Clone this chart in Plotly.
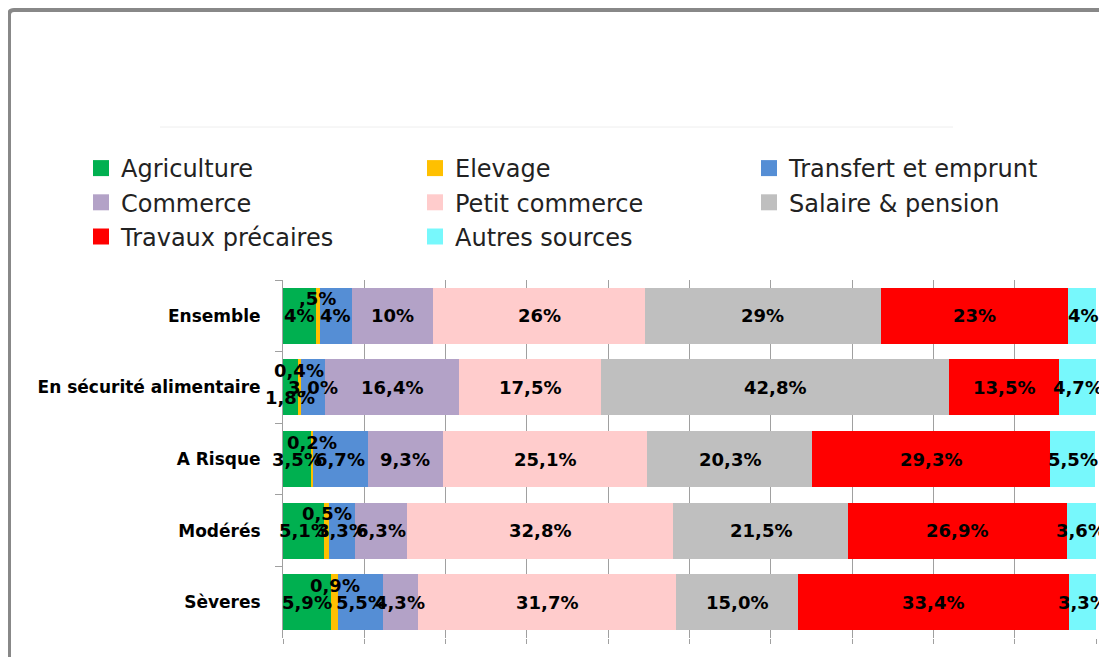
import plotly.graph_objects as go

# categories (top to bottom) and income sources
categories = ["Ensemble", "En sécurité alimentaire", "A Risque", "Modérés", "Sèveres"]
sources = ["Agriculture", "Elevage", "Transfert et emprunt", "Commerce",
           "Petit commerce", "Salaire & pension", "Travaux précaires", "Autres sources"]

# shares in %, one list per source, same order as categories
agriculture = [4, 1.8, 3.5, 5.1, 5.9]
elevage = [0.5, 0.4, 0.2, 0.5, 0.9]
transfert = [4, 3.0, 6.7, 3.3, 5.5]
commerce = [10, 16.4, 9.3, 6.3, 4.3]
petit_commerce = [26, 17.5, 25.1, 32.8, 31.7]
salaire = [29, 42.8, 20.3, 21.5, 15.0]
travaux = [23, 13.5, 29.3, 26.9, 33.4]
autres = [4, 4.7, 5.5, 3.6, 3.3]

series = [agriculture, elevage, transfert, commerce, petit_commerce, salaire, travaux, autres]
colors = ["#00B050", "#FFC000", "#558ED5", "#B3A2C7", "#FFCCCC", "#BFBFBF", "#FF0000", "#77F8FC"]

# page body has an 8px margin, so the figure is drawn 8px in from the window corner
OFF = 8
W, H = 1107 - OFF, 657 - OFF
# plot area in window pixels: x 283..1096, y 280..638
L, R, T, B = 283 - OFF, W - (1096 - OFF), 280 - OFF, H - (638 - OFF)
PW, PH = W - L - R, H - T - B


def px(x, y):
    # window pixel -> paper coords
    return (x - OFF - L) / PW, (H - B - (y - OFF)) / PH


def fmt(v, whole):
    if whole:
        return f"{v:g}".lstrip("0").replace(".", ",") + "%"
    return f"{v:.1f}".replace(".", ",") + "%"


# manual label nudges (source index, row) -> yshift
yshifts = {(1, r): 17 for r in range(len(categories))}
yshifts[(0, 1)] = -10

fig = go.Figure()

for i, (name, vals, col) in enumerate(zip(sources, series, colors)):
    fig.add_trace(go.Bar(y=categories, x=vals, orientation="h", name=name,
                         marker=dict(color=col, line=dict(width=0)),
                         showlegend=False, hoverinfo="x+name"))
    # legend entry with bigger square
    fig.add_trace(go.Scatter(x=[None], y=[None], mode="markers", name=name,
                             marker=dict(symbol="square", size=16, color=col)))

# data labels centred in each segment
for r, cat in enumerate(categories):
    start = 0
    for i, vals in enumerate(series):
        v = vals[r]
        fig.add_annotation(x=start + v / 2, y=cat, text=fmt(v, r == 0),
                           showarrow=False, yshift=yshifts.get((i, r), 0),
                           font=dict(family="DejaVu Sans", size=18, color="black", weight="bold"))
        start += v

# frame around the picture
x0, y0 = px(9, 10)
x1, _ = px(1120, 10)
_, yb = px(9, 670)
rx, _ = px(14, 10)
_, ry = px(9, 15)
fig.add_shape(type="path", xref="paper", yref="paper",
              path=f"M {x0},{yb} L {x0},{ry} Q {x0},{y0} {rx},{y0} L {x1},{y0}",
              line=dict(color="#888888", width=4))
lx0, ly = px(160, 127)
lx1, _ = px(953, 127)
fig.add_shape(type="line", xref="paper", yref="paper", x0=lx0, x1=lx1, y0=ly, y1=ly,
              line=dict(color="#EEEEEE", width=1))

lgx, lgy = px(81, 146)
fig.update_layout(
    width=W, height=H,
    margin=dict(l=L, r=R, t=T, b=B),
    barmode="stack", bargap=0.22,
    plot_bgcolor="white", paper_bgcolor="white",
    showlegend=True,
    legend=dict(orientation="h", x=lgx, y=lgy, xanchor="left", yanchor="top",
                entrywidth=289, font=dict(family="DejaVu Sans", size=24, color="#222222"),
                traceorder="normal"),
    xaxis=dict(range=[0, 100], dtick=10, showgrid=True, gridcolor="#A0A0A0", gridwidth=1,
               zeroline=False, showticklabels=False, ticks="outside", ticklen=5,
               tickcolor="#A0A0A0", showline=False, fixedrange=True),
    yaxis=dict(autorange="reversed", showline=True, linecolor="#A0A0A0", showgrid=False,
               ticks="outside", tickson="boundaries", ticklen=7, tickcolor="#A0A0A0",
               ticklabelstandoff=18,
               tickfont=dict(family="DejaVu Sans", size=17, color="black", weight="bold")),
)

fig.write_html("out.html")
